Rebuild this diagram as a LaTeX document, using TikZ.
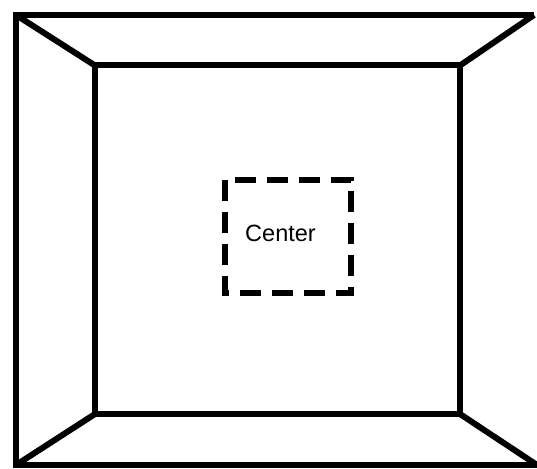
\documentclass[tikz,border=0pt]{standalone}
\usepackage{fontspec}
\setmainfont{Liberation Sans}
\usetikzlibrary{positioning}

\begin{document}
\begin{tikzpicture}[x=1pt,y=-1pt,line width=6pt]
  \useasboundingbox (0,0) rectangle (537,468);
  % outer corners
  \coordinate (otl) at (16,15);
  \coordinate (otr) at (534,15);
  \coordinate (obl) at (16,465);
  \coordinate (obr) at (537,465);
  % back wall
  \coordinate (itl) at (95,65.5);
  \coordinate (itr) at (460,65.5);
  \coordinate (ibl) at (95,414);
  \coordinate (ibr) at (460,414);
  \draw (otr) -- (otl) -- (obl) -- (obr);
  \draw (itl) -- (itr) -- (ibr) -- (ibl) -- cycle;
  \draw (otl) -- (itl);
  \draw (otr) -- (itr);
  \draw (obl) -- (ibl);
  \draw (obr) -- (ibr);
  % center region
  \draw[line width=6pt,dash pattern=on 21pt off 11pt] (224.5,179.5) rectangle (351,292.5);
  \node[font=\fontsize{23.5}{28}\selectfont] (center) at (280.5,233) {Center};
\end{tikzpicture}
\end{document}
